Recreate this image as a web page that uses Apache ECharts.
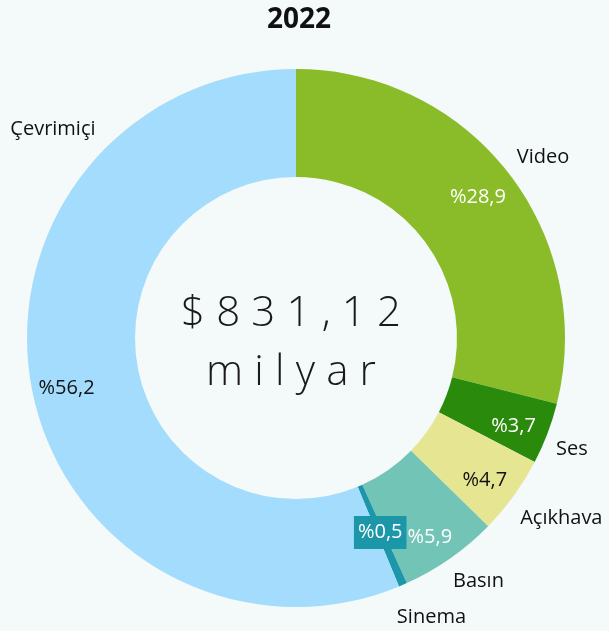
<!doctype html>
<html>
<head>
<meta charset="UTF-8">
<title>2022</title>
<style type="text/css">
	html, body { margin: 0; padding: 0; background: #f4f9f9; }
	#chart { width: 609px; height: 631px; }
</style>
</head>
<body>
<div id="chart"></div>
<script src="https://cdn.jsdelivr.net/npm/echarts@6/dist/echarts.min.js"></script>
<script type="text/javascript">
	// 数据
	var categories = ['Video', 'Ses', 'Açıkhava', 'Basın', 'Sinema', 'Çevrimiçi'];
	var shares = [28.9, 3.7, 4.7, 5.9, 0.5, 56.2];
	var colors = ['#89bc28', '#2a8a0c', '#e6e592', '#72c4b6', '#1b97a9', '#a3dcfc'];
	var pctTextColors = ['#fff', '#fff', '#111', '#fff', '#fff', '#111'];
	var totalText = ['$831,12', 'milyar'];
	var title = '2022';

	// 标签微调 (px)
	var pctOffsets = [[-5, 5], [-4, 4], [-3, 3], [-2, 5], [-10, -23], [3, 4]];
	var nameOffsets = [[4, 9], [-12, 2], [16, -1], [6, -9], [13, -3], [59, -269]];

	var FONT = '"Open Sans", "Noto Sans", sans-serif';

	function fmt(v) {
		return '%' + v.toFixed(1).replace('.', ',');
	}
	// 字间距
	function spaced(s) {
		return s.split('').join('\u2009\u200A');
	}

	var ringData = categories.map(function (c, i) {
		return { name: c, value: shares[i], itemStyle: { color: colors[i] } };
	});
	var pctData = categories.map(function (c, i) {
		var lab = {
			color: pctTextColors[i],
			offset: pctOffsets[i]
		};
		if (c === 'Sinema') {
			lab.backgroundColor = colors[i];
			lab.padding = [7, 4, 6, 4];
		}
		return { name: c, value: shares[i], label: lab };
	});
	var nameData = categories.map(function (c, i) {
		return { name: c, value: shares[i], label: { offset: nameOffsets[i] } };
	});

	var chart = echarts.init(document.getElementById('chart'));
	var option = {
		backgroundColor: '#f4f9f9',
		animation: false,
		title: {
			text: title,
			left: 262,
			top: 1,
			textStyle: { fontFamily: FONT, fontWeight: 'bold', fontSize: 28, color: '#111' }
		},
		graphic: [{
			type: 'text',
			x: 291,
			y: 293,
			style: {
				text: spaced(totalText[0]),
				font: '300 42px ' + FONT,
				fill: '#1a1a1a',
				textAlign: 'center'
			}
		}, {
			type: 'text',
			x: 291,
			y: 352,
			style: {
				text: spaced(totalText[1]),
				font: '300 42px ' + FONT,
				fill: '#1a1a1a',
				textAlign: 'center'
			}
		}],
		series: [{
			name: 'ring',
			type: 'pie',
			center: [296, 338],
			radius: [161, 269],
			startAngle: 90,
			silent: true,
			label: { show: false },
			labelLine: { show: false },
			data: ringData
		}, {
			name: 'pct',
			type: 'pie',
			center: [296, 338],
			radius: [200, 268],
			startAngle: 90,
			silent: true,
			avoidLabelOverlap: false,
			itemStyle: { color: 'transparent' },
			label: {
				show: true,
				position: 'inside',
				fontFamily: FONT,
				fontSize: 20,
				formatter: function (p) { return fmt(p.value); }
			},
			labelLine: { show: false },
			data: pctData
		}, {
			name: 'names',
			type: 'pie',
			center: [296, 338],
			radius: [290, 320],
			startAngle: 90,
			silent: true,
			avoidLabelOverlap: false,
			itemStyle: { color: 'transparent' },
			label: {
				show: true,
				position: 'inside',
				fontFamily: FONT,
				fontSize: 20,
				color: '#111',
				formatter: '{b}'
			},
			labelLine: { show: false },
			data: nameData
		}]
	};
	chart.setOption(option);
</script>
</body>
</html>
